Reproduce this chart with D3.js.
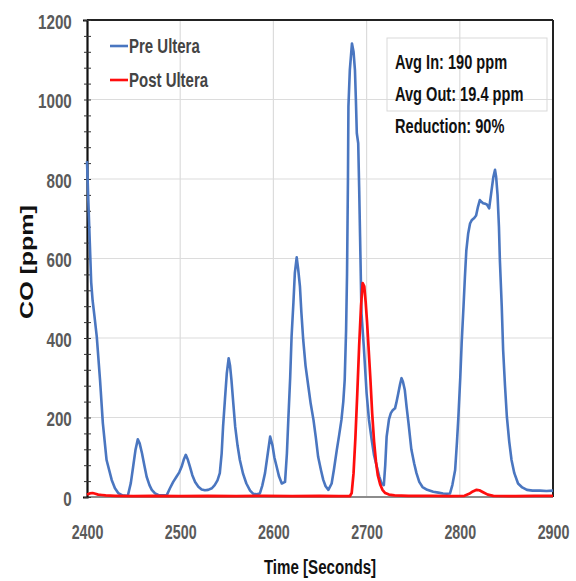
<!DOCTYPE html>
<html>
<head>
<meta charset="utf-8">
<script src="https://cdn.jsdelivr.net/npm/d3@7"></script>
<style>
	body { margin: 0; background: #fff; }
	svg { display: block; }
	.lbl { font-family: "Liberation Sans", Arial, sans-serif; font-weight: bold; }
</style>
</head>
<body>
<svg id="chart" width="576" height="581"></svg>
<script>
// Pre Ultera (blue) - time [s], CO [ppm]
var preTime = [2400, 2401.5, 2403, 2404.5, 2406, 2408, 2410.5, 2414, 2417, 2421, 2426.5, 2430, 2433.5, 2438, 2442.5,
	2444, 2447, 2449.5, 2452, 2454.5, 2456.5, 2459, 2461.5, 2464, 2467, 2469.5, 2473, 2476.5, 2481, 2485.5,
	2489, 2492.5, 2496, 2499, 2501.5, 2504, 2506, 2508, 2510.5, 2513, 2516, 2519.5, 2523, 2526.5, 2530, 2534,
	2537, 2540, 2542.5, 2544.5, 2546, 2548, 2550, 2552, 2553.5, 2555, 2557, 2559, 2561.5, 2564, 2567.5, 2571,
	2575, 2578.5, 2582, 2585.5, 2588, 2591, 2594, 2596.5, 2599, 2601, 2603.5, 2606, 2609, 2612.5, 2614.5, 2616,
	2618, 2619.5, 2621.5, 2623, 2625, 2626.5, 2628.5, 2630, 2632, 2634.5, 2637.5, 2640, 2643, 2645.5, 2648, 2651,
	2653.5, 2656, 2659, 2662.5, 2665, 2668, 2670.5, 2673, 2675, 2676.5, 2678, 2679, 2680, 2680.5, 2682, 2684.3,
	2686, 2687.5, 2688.5, 2689.5, 2691, 2692, 2693, 2694.5, 2697, 2700, 2702.5, 2705.5, 2708, 2711, 2713.5, 2716,
	2718.5, 2720, 2721.5, 2724, 2726, 2728, 2730.5, 2732, 2734, 2736, 2737.5, 2739, 2741, 2743, 2745, 2748, 2751,
	2753.5, 2756.5, 2760, 2765, 2771.5, 2777, 2782, 2786, 2789.5, 2792, 2795, 2797, 2798.5, 2800.5, 2802, 2804,
	2805.5, 2807, 2809, 2811, 2813, 2815.5, 2817.5, 2819.5, 2821.5, 2823.5, 2825, 2827, 2829, 2831.5, 2834, 2836,
	2837.8, 2839, 2840.5, 2842, 2843, 2845, 2846.5, 2848.5, 2850.5, 2853, 2855.5, 2858.5, 2862.5, 2867, 2872, 2878,
	2886, 2893, 2900];
var preValue = [845, 740, 640, 540, 495, 455, 403, 294, 186, 93, 43, 22, 10, 4, 3,
	5, 35, 76, 118, 145, 135, 110, 80, 51, 30, 18, 9, 5, 4, 4,
	22, 38, 51, 62, 76, 95, 106, 95, 76, 55, 38, 26, 19, 17, 18, 22,
	30, 42, 60, 110, 177, 245, 311, 349, 330, 294, 235, 177, 130, 93, 58, 34,
	16, 8, 7, 9, 28, 60, 110, 152, 130, 100, 76, 52, 34, 38, 110, 194,
	300, 403, 490, 563, 603, 575, 529, 465, 395, 330, 278, 235, 194, 150, 101, 68,
	43, 27, 18, 34, 70, 118, 155, 194, 240, 294, 420, 560, 800, 982, 1074, 1141,
	1120, 1074, 1000, 915, 890, 780, 655, 462, 378, 261, 195, 143, 105, 76, 52, 34,
	30, 80, 152, 195, 211, 218, 223, 238, 261, 285, 299, 290, 269, 225, 185, 120, 85,
	60, 38, 25, 18, 13, 11, 9, 8, 9, 30, 68, 140, 202, 300, 387, 480,
	554, 620, 663, 688, 697, 702, 708, 730, 747, 742, 739, 738, 736, 726, 770, 805,
	823, 805, 760, 680, 596, 480, 370, 280, 202, 140, 93, 60, 34, 24, 18, 16,
	16, 15, 16];

// Post Ultera (red)
var postTime = [2400, 2403, 2406, 2409, 2412, 2416, 2420, 2430, 2450, 2470, 2500, 2530, 2560, 2590, 2620, 2650,
	2670, 2682, 2684, 2686, 2688, 2690, 2692, 2694, 2695.8, 2697.5, 2699, 2700.5, 2702, 2704, 2706, 2708, 2710,
	2712, 2714.5, 2717, 2720, 2724, 2730, 2745, 2770, 2790, 2805, 2810, 2814, 2818, 2821, 2825, 2830, 2836,
	2860, 2880, 2900];
var postValue = [6, 9, 10, 8, 6, 5, 4, 3, 2, 3, 2, 3, 2, 3, 2, 3,
	2, 2, 10, 60, 150, 260, 380, 480, 538, 530, 490, 440, 380, 300, 210, 140, 90,
	55, 32, 18, 10, 6, 4, 3, 3, 2, 3, 8, 14, 18, 17, 12, 6, 3,
	2, 3, 3];

var xTicks = [2400, 2500, 2600, 2700, 2800, 2900];
var yTicks = [0, 200, 400, 600, 800, 1000, 1200];
var seriesNames = ['Pre Ultera', 'Post Ultera'];
var seriesColors = ['#4a76c0', '#ff0d0d'];
var noteLines = ['Avg In: 190 ppm', 'Avg Out: 19.4 ppm', 'Reduction: 90%'];

var margin = {top: 20, right: 23, bottom: 84, left: 87},
	svg = d3.select('#chart'),
	width = +svg.attr('width') - margin.left - margin.right,
	height = +svg.attr('height') - margin.top - margin.bottom,
	g = svg.append('g').attr('transform', 'translate(' + margin.left + ',' + margin.top + ')');

var x = d3.scaleLinear().domain([2400, 2900]).range([0, width]);
var y = d3.scaleLinear().domain([0, 1200]).range([height, 0]);

// grid
g.append('g').selectAll('line')
	.data(xTicks.slice(1, -1))
	.enter().append('line')
	.attr('x1', function(d) { return x(d); })
	.attr('x2', function(d) { return x(d); })
	.attr('y1', 0).attr('y2', height)
	.attr('stroke', '#dcdcdc').attr('stroke-width', 1.2);
g.append('g').selectAll('line')
	.data(yTicks.slice(1, -1))
	.enter().append('line')
	.attr('x1', 0).attr('x2', width)
	.attr('y1', function(d) { return y(d); })
	.attr('y2', function(d) { return y(d); })
	.attr('stroke', '#dcdcdc').attr('stroke-width', 1.2);

// frame
g.append('line').attr('x1', 0).attr('x2', width).attr('y1', 0).attr('y2', 0)
	.attr('stroke', '#222').attr('stroke-width', 2);
g.append('line').attr('x1', width).attr('x2', width).attr('y1', 0).attr('y2', height)
	.attr('stroke', '#222').attr('stroke-width', 2);
g.append('line').attr('x1', 0).attr('x2', width).attr('y1', height).attr('y2', height)
	.attr('stroke', '#8c8c8c').attr('stroke-width', 2);

// axes (labels squeezed: the original face is a narrow one)
var xAxis = g.append('g')
	.attr('class', 'lbl')
	.attr('transform', 'translate(0,' + height + ')')
	.call(d3.axisBottom(x).tickValues(xTicks).tickSize(0).tickPadding(27).tickFormat(d3.format('d')));
xAxis.select('.domain').remove();
xAxis.selectAll('text').attr('font-size', 21).attr('fill', '#5a5a5a')
	.attr('transform', 'scale(0.68,1)');

var yAxis = g.append('g')
	.call(d3.axisLeft(y).tickValues(d3.range(0, 1201, 40)).tickSize(4).tickFormat(''));
yAxis.select('.domain').attr('stroke', '#111').attr('stroke-width', 2.2);
yAxis.selectAll('.tick line').attr('stroke', '#333').attr('x2', 4).attr('x1', -3);

var yLabels = g.append('g')
	.attr('class', 'lbl')
	.call(d3.axisLeft(y).tickValues(yTicks).tickSize(0).tickPadding(20).tickFormat(d3.format('d')));
yLabels.select('.domain').remove();
yLabels.selectAll('text').attr('font-size', 20).attr('fill', '#5a5a5a').attr('dy', '0.42em')
	.attr('transform', 'scale(0.76,1)');

// series
var line = d3.line()
	.x(function(d) { return x(d[0]); })
	.y(function(d) { return y(d[1]); });

var preData = d3.zip(preTime, preValue);
var postData = d3.zip(postTime, postValue);

g.append('path')
	.datum(preData)
	.attr('fill', 'none')
	.attr('stroke', seriesColors[0])
	.attr('stroke-width', 2.6)
	.attr('stroke-linejoin', 'round')
	.attr('d', line);
g.append('path')
	.datum(postData)
	.attr('fill', 'none')
	.attr('stroke', seriesColors[1])
	.attr('stroke-width', 2.7)
	.attr('stroke-linejoin', 'round')
	.attr('d', line);

// legend
var legend = g.append('g').attr('class', 'lbl')
	.selectAll('g')
	.data(seriesNames)
	.enter().append('g')
	.attr('transform', function(d, i) { return 'translate(23,' + (26 + i * 34) + ')'; });
legend.append('line')
	.attr('x1', 0).attr('x2', 18)
	.attr('stroke', function(d, i) { return seriesColors[i]; })
	.attr('stroke-width', 2.6);
legend.append('text')
	.attr('transform', 'translate(19,0) scale(0.75,1)')
	.attr('dy', '0.36em')
	.attr('font-size', 20)
	.attr('fill', '#444')
	.text(function(d) { return d; });

// note box
g.append('rect')
	.attr('x', 300).attr('y', 18)
	.attr('width', 160).attr('height', 73)
	.attr('fill', 'none')
	.attr('stroke', '#d9d9d9');
g.append('g').attr('class', 'lbl')
	.selectAll('text')
	.data(noteLines)
	.enter().append('text')
	.attr('transform', function(d, i) { return 'translate(308,' + (42 + i * 31.7) + ') scale(0.73,1)'; })
	.attr('dy', '0.36em')
	.attr('font-size', 20)
	.attr('fill', '#111')
	.text(function(d) { return d; });

// axis titles
svg.append('text')
	.attr('class', 'lbl')
	.attr('transform', 'translate(320,566) scale(0.72,1)')
	.attr('dy', '0.36em')
	.attr('text-anchor', 'middle')
	.attr('font-size', 21)
	.attr('fill', '#111')
	.text('Time [Seconds]');
svg.append('text')
	.attr('class', 'lbl')
	.attr('transform', 'translate(26,262) rotate(-90) scale(1,0.75)')
	.attr('dy', '0.36em')
	.attr('text-anchor', 'middle')
	.attr('font-size', 25)
	.attr('fill', '#111')
	.text('CO [ppm]');
</script>
</body>
</html>
